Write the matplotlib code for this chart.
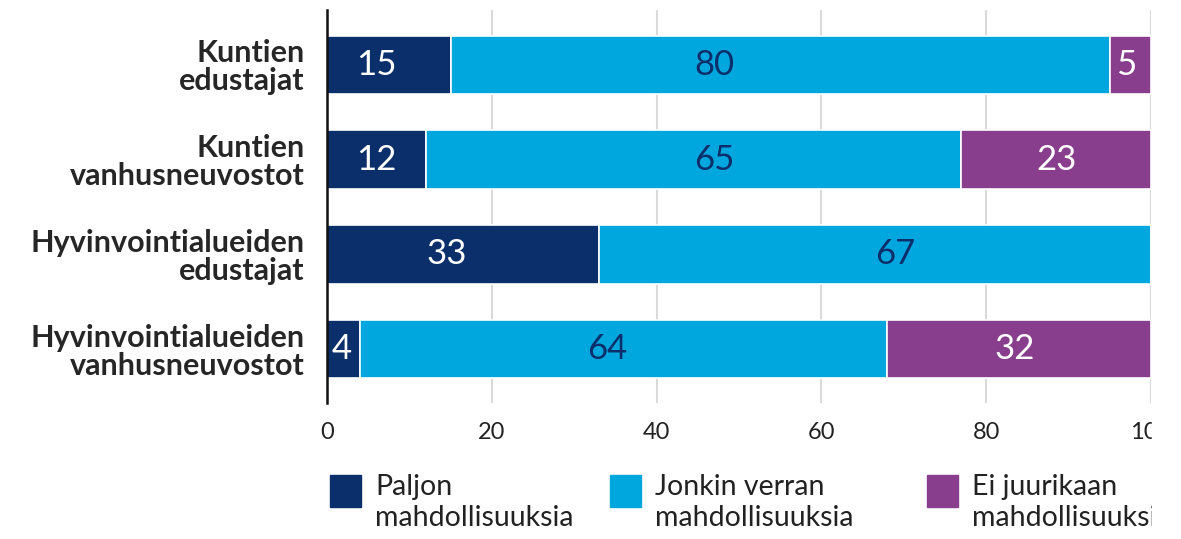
import numpy as np
import matplotlib.pyplot as plt
from matplotlib.patches import Rectangle

plt.rcParams['font.family'] = ['Lato', 'DejaVu Sans']

# Data
categories = ['Kuntien\nedustajat', 'Kuntien\nvanhusneuvostot',
              'Hyvinvointialueiden\nedustajat', 'Hyvinvointialueiden\nvanhusneuvostot']
paljon = [15, 12, 33, 4]
jonkin = [80, 65, 67, 64]
ei_juuri = [5, 23, 0, 32]
series_labels = ['Paljon\nmahdollisuuksia', 'Jonkin verran\nmahdollisuuksia',
                 'Ei juurikaan\nmahdollisuuksia']
x_ticks = [0, 20, 40, 60, 80, 100]

# where the value labels sit in the original (not always bar centre), per row
label_pos = [[6, 47, 97], [6, 47, 88.5], [14.5, 69, None], [1.8, 34, 83.5]]

colors = ['#0b2f6b', '#00a7df', '#883e8c']
text_colors = ['white', '#0b2f6b', 'white']

W, H = 1181, 539
fig = plt.figure(figsize=(W / 100, H / 100), dpi=100)
ax = fig.add_axes([327 / W, 1 - 403 / H, (1151 - 327) / W, 393 / H])

y = np.arange(len(categories))
left = np.zeros(len(categories))
for k, (vals, col, tcol) in enumerate(zip([paljon, jonkin, ei_juuri], colors, text_colors)):
    vals = np.array(vals, dtype=float)
    ax.barh(y, vals, left=left, height=0.62, color=col,
            edgecolor='white', linewidth=1.2, zorder=3)
    for i, v in enumerate(vals):
        if v > 0:
            ax.text(label_pos[i][k], y[i], f'{int(v)}', ha='center', va='center',
                    color=tcol, fontsize=25, zorder=4)
    left += vals

ax.set_xlim(0, 100)
ax.set_ylim(3.57, -0.58)
ax.set_yticks(y)
ax.set_yticklabels(categories, fontsize=22, fontweight='bold', color='#262626',
                   linespacing=1.0)
ax.set_xticks(x_ticks)
ax.set_xticklabels([str(t) for t in x_ticks], fontsize=17, color='#222222')
ax.tick_params(axis='both', length=0)
ax.tick_params(axis='x', pad=14)
ax.tick_params(axis='y', pad=16)
for s in ['top', 'right', 'bottom']:
    ax.spines[s].set_visible(False)
ax.spines['left'].set_linewidth(1.8)
ax.spines['left'].set_color('#111111')
ax.spines['left'].set_zorder(5)
ax.grid(axis='x', color='#dadada', linewidth=1.5, zorder=0)

# legend
leg_x = [330, 610, 927]
for lx, col, lab in zip(leg_x, colors, series_labels):
    fig.add_artist(Rectangle((lx / W, 1 - 507 / H), 31 / W, 32 / H,
                             transform=fig.transFigure, color=col))
    fig.text((lx + 45) / W, 1 - 474 / H, lab, fontsize=20.5, va='top',
             ha='left', color='#222222', linespacing=1.22)

# the source image is cut off at the right edge
fig.add_artist(Rectangle((1152 / W, 0), 1, 1, transform=fig.transFigure,
                         color='white', zorder=100))

fig.savefig('out.png', dpi=100)
